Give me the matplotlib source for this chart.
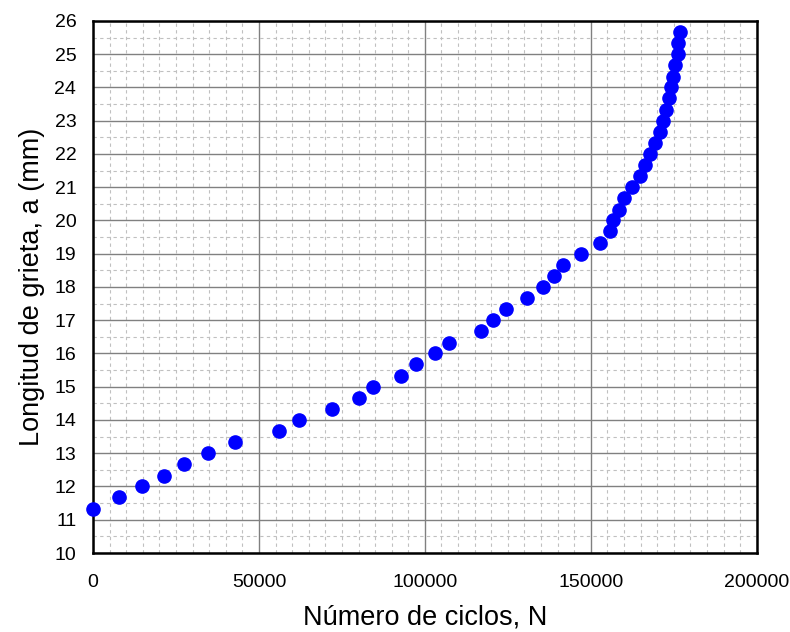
import numpy as np
import matplotlib
matplotlib.use("Agg")
import matplotlib.pyplot as plt
from matplotlib.ticker import MultipleLocator

plt.rcParams['font.family'] = ['Liberation Sans', 'DejaVu Sans']

# numero de ciclos N y longitud de grieta a (mm)
ciclos = [0, 7800, 14900, 21500, 27300, 34700, 42800, 56100, 62000, 71900,
          80100, 84500, 92900, 97300, 102900, 107400, 116900, 120500, 124500, 130700,
          135600, 139000, 141700, 147000, 152800, 155800, 156600, 158600, 159900, 162300,
          164700, 166200, 167700, 169400, 170900, 171700, 172500, 173400, 174000, 174700,
          175400, 176200, 176400, 176900]
longitud = [11.33, 11.67, 12.0, 12.33, 12.67, 13.0, 13.33, 13.67, 14.0, 14.33,
            14.67, 15.0, 15.33, 15.67, 16.0, 16.33, 16.67, 17.0, 17.33, 17.67,
            18.0, 18.33, 18.67, 19.0, 19.33, 19.67, 20.0, 20.33, 20.67, 21.0,
            21.33, 21.67, 22.0, 22.33, 22.67, 23.0, 23.33, 23.67, 24.0, 24.33,
            24.67, 25.0, 25.33, 25.67]

fig = plt.figure(figsize=(7.9, 6.32), dpi=100)
ax = fig.add_axes([0.1177, 0.125, 0.8403, 0.8418])

ax.plot(ciclos, longitud, 'o', color='#0000FF', markersize=9.5, zorder=3, clip_on=False)

ax.set_xlim(0, 200000)
ax.set_ylim(10, 26)
ax.xaxis.set_major_locator(MultipleLocator(50000))
ax.xaxis.set_minor_locator(MultipleLocator(5000))
ax.yaxis.set_major_locator(MultipleLocator(1))
ax.yaxis.set_minor_locator(MultipleLocator(0.5))

ax.grid(which='minor', color='#c0c0c0', linestyle=(0, (3, 3)), linewidth=0.8)
ax.grid(which='major', color='#808080', linestyle='-', linewidth=1.0)
ax.set_axisbelow(True)

ax.tick_params(which='both', length=0)
ax.tick_params(axis='x', pad=15, labelsize=14)
ax.tick_params(axis='y', pad=12, labelsize=14)

for s in ax.spines.values():
    s.set_color('black')
    s.set_linewidth(1.8)

ax.set_xlabel('Número de ciclos, N', fontsize=19.5, labelpad=10)
ax.set_ylabel('Longitud de grieta, a (mm)', fontsize=19.5, labelpad=7)

fig.savefig('out.png', dpi=100)
